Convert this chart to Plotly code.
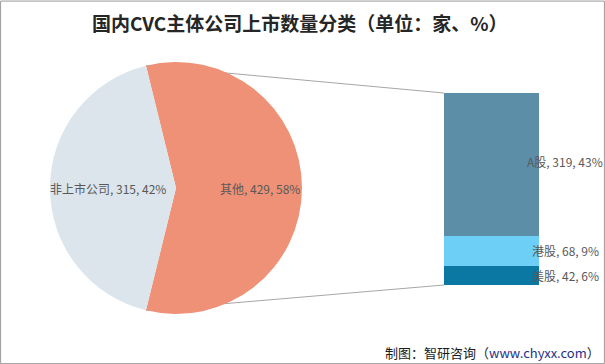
import math
import plotly.graph_objects as go

# ---- data ----
pie_labels = ["其他", "非上市公司"]
pie_values = [429, 315]
pie_colors = ["#ee9176", "#dce5eb"]

bar_labels = ["美股", "港股", "A股"]        # bottom -> top
bar_values = [42, 68, 319]
bar_colors = ["#0b78a3", "#6dcff6", "#5c8fa7"]

title_text = "国内CVC主体公司上市数量分类（单位：家、%）"

W, H = 605, 364
total = sum(pie_values)

def px(x):
    return x / W

def py(y):
    return 1 - y / H

# geometry (pixels)
cx, cy, r = 176, 188, 126
bx0, bx1, by0, by1 = 444, 539, 93, 285

fig = go.Figure()

frac = pie_values[0] / total
rotation = 90 - 180 * frac
fig.add_trace(go.Pie(
    labels=pie_labels, values=pie_values, sort=False, direction="clockwise",
    rotation=rotation, textinfo="none", hoverinfo="label+value+percent",
    marker=dict(colors=pie_colors, line=dict(width=0)),
    domain=dict(x=[px(cx - r), px(cx + r)], y=[py(cy + r), py(cy - r)]),
    showlegend=False,
))

for lab, val, col in zip(bar_labels, bar_values, bar_colors):
    fig.add_trace(go.Bar(
        x=[0], y=[val], width=[1], marker=dict(color=col, line=dict(width=0)),
        name=lab, showlegend=False, xaxis="x", yaxis="y",
    ))

annotations = []
# pie labels
label_radius = [0.67, 0.54]
start = rotation
for lab, val, lr in zip(pie_labels, pie_values, label_radius):
    span = 360 * val / total
    mid = math.radians(start + span / 2)
    lx = cx + lr * r * math.sin(mid)
    ly = cy - lr * r * math.cos(mid)
    annotations.append(dict(
        x=px(lx), y=py(ly), xref="paper", yref="paper", showarrow=False,
        text=f"{lab}, {val}, {round(100 * val / total)}%",
        font=dict(size=12, color="#595959", family="Noto Sans CJK SC"),
        xanchor="center", yanchor="middle"))
    start += span

# bar labels
cum = 0
for lab, val in zip(bar_labels, bar_values):
    mid = cum + val / 2
    cum += val
    annotations.append(dict(
        x=px(565), y=mid, xref="paper", yref="y", showarrow=False,
        text=f"{lab}, {val}, {round(100 * val / total)}%",
        font=dict(size=12, color="#595959", family="Noto Sans CJK SC"),
        xanchor="center", yanchor="middle", yshift=3 if lab == "A股" else 0))

# title
annotations.append(dict(
    x=px(300), y=py(22), xref="paper", yref="paper", showarrow=False,
    text=f"<b>{title_text}</b>",
    font=dict(size=19, color="#262626", family="Noto Sans CJK SC"),
    xanchor="center", yanchor="middle"))

# footer
annotations.append(dict(
    x=px(602), y=py(352), xref="paper", yref="paper", showarrow=False,
    text="制图：智研咨询（<span style='color:#1f2f8a'>www.chyxx.com</span>）",
    font=dict(size=13, color="#1a1a1a", family="Noto Sans CJK SC"),
    xanchor="right", yanchor="middle"))

# connector lines computed from the pie split angle
t_top = math.radians(rotation)
t_bot = math.radians(rotation + 360 * frac)
top_pt = (cx + r * math.sin(t_top), cy - r * math.cos(t_top))
bot_pt = (cx + r * math.sin(t_bot), cy - r * math.cos(t_bot))
shapes = [
    dict(type="line", xref="paper", yref="paper",
         x0=px(top_pt[0]), y0=py(top_pt[1]), x1=px(bx0), y1=py(by0),
         line=dict(color="#a6a6a6", width=1), layer="below"),
    dict(type="line", xref="paper", yref="paper",
         x0=px(bot_pt[0]), y0=py(bot_pt[1]), x1=px(bx0), y1=py(by1),
         line=dict(color="#a6a6a6", width=1), layer="below"),
    dict(type="rect", xref="paper", yref="paper", x0=0.001, y0=0.001, x1=0.999, y1=0.997,
         line=dict(color="#9a9a9a", width=1)),
]

fig.update_layout(
    width=W, height=H, margin=dict(l=0, r=0, t=0, b=0),
    paper_bgcolor="white", plot_bgcolor="white",
    barmode="stack", bargap=0,
    xaxis=dict(domain=[px(bx0), px(bx1)], range=[-0.5, 0.5], visible=False, fixedrange=True),
    yaxis=dict(domain=[py(by1), py(by0)], range=[0, sum(bar_values)], visible=False, fixedrange=True),
    annotations=annotations, shapes=shapes,
    font=dict(family="Noto Sans CJK SC"),
)

fig.write_html("out.html", config={"displayModeBar": False},
               post_script="document.body.style.margin='0';document.body.style.overflow='hidden';")
